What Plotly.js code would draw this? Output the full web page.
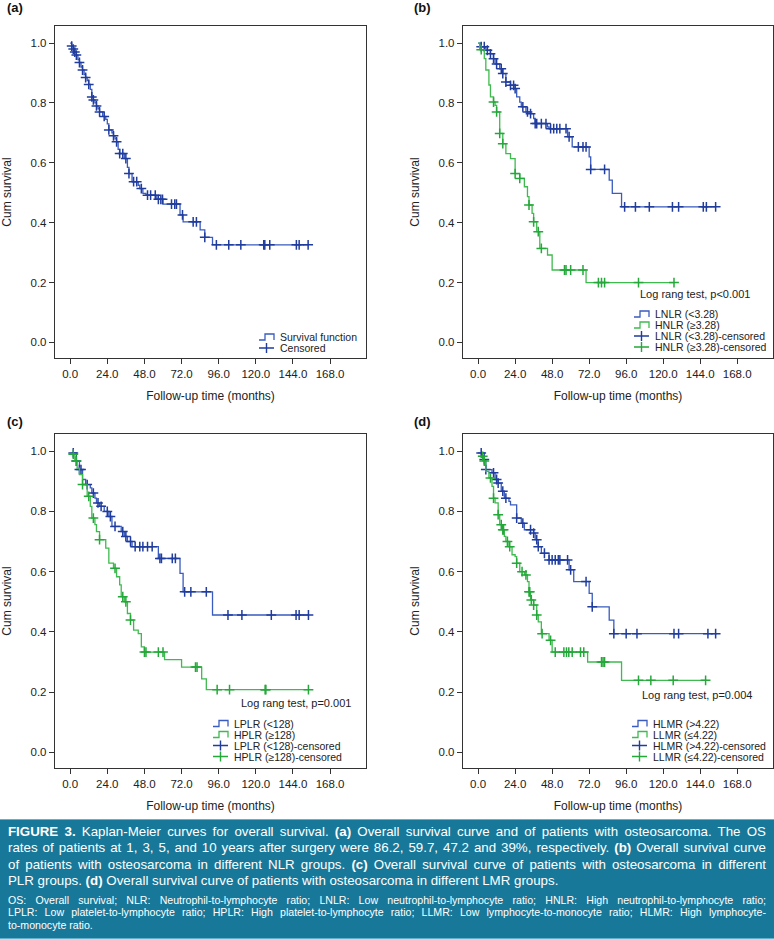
<!DOCTYPE html>
<html>
<head>
<meta charset="utf-8">
<script src="https://cdn.plot.ly/plotly-3.0.1.min.js"></script>
<style>
  body { margin: 0; background: #fff; }
  #chart { width: 774px; height: 819px; }
  #caption {
    width: 774px; height: 120px; box-sizing: border-box;
    background: #17789a; color: #fff;
    border-top: 1.5px solid #63b2cd; border-bottom: 1.5px solid #63b2cd;
    padding: 4px 8px 0 8px;
    font-family: "Liberation Sans", Arial, sans-serif;
  }
  #caption .main { font-size: 13.3px; line-height: 16.3px; }
  #caption .note { font-size: 10.6px; line-height: 12.5px; margin-top: 4.5px; }
  #caption .jl { text-align: justify; text-align-last: justify; }
</style>
</head>
<body>
<div id="chart"></div>
<div id="caption">
  <div class="main">
    <div class="jl"><b>FIGURE 3.</b> Kaplan-Meier curves for overall survival. <b>(a)</b> Overall survival curve and of patients with osteosarcoma. The OS</div>
    <div class="jl">rates of patients at 1, 3, 5, and 10 years after surgery were 86.2, 59.7, 47.2 and 39%, respectively. <b>(b)</b> Overall survival curve</div>
    <div class="jl">of patients with osteosarcoma in different NLR groups. <b>(c)</b> Overall survival curve of patients with osteosarcoma in different</div>
    <div>PLR groups. <b>(d)</b> Overall survival curve of patients with osteosarcoma in different LMR groups.</div>
  </div>
  <div class="note">
    <div class="jl">OS: Overall survival; NLR: Neutrophil-to-lymphocyte ratio; LNLR: Low neutrophil-to-lymphocyte ratio; HNLR: High neutrophil-to-lymphocyte ratio;</div>
    <div class="jl">LPLR: Low platelet-to-lymphocyte ratio; HPLR: High platelet-to-lymphocyte ratio; LLMR: Low lymphocyte-to-monocyte ratio; HLMR: High lymphocyte-</div>
    <div>to-monocyte ratio.</div>
  </div>
</div>
<script>
// (a) overall survival
const aTime = [0, 1, 2, 3, 4, 5, 6, 7, 8, 9, 10, 11, 12, 13, 14, 15, 16, 17, 18, 19, 21, 23, 24, 25, 27, 28, 29, 30, 31, 32, 35, 37, 38, 40, 44, 45, 47, 49, 56, 60, 71, 73, 84, 87, 92, 154];
const aSurv = [1.0, 0.99, 0.98, 0.97, 0.96, 0.945, 0.935, 0.92, 0.91, 0.895, 0.885, 0.875, 0.862, 0.845, 0.82, 0.81, 0.80, 0.79, 0.78, 0.77, 0.755, 0.745, 0.73, 0.71, 0.70, 0.69, 0.68, 0.67, 0.645, 0.631, 0.614, 0.585, 0.564, 0.537, 0.525, 0.514, 0.498, 0.492, 0.478, 0.462, 0.426, 0.403, 0.376, 0.351, 0.326, 0.326];
const aCens = [1, 2, 3, 4, 6, 8, 10, 12, 14, 15, 17, 19, 22, 25, 28, 30, 32, 34, 36, 38, 41, 43, 46, 50, 52, 55, 57, 58.6, 59.7, 65.5, 67.6, 68.7, 72.6, 79.5, 81.6, 87, 94.5, 102.5, 110.3, 125.1, 125.8, 129, 146.2, 148, 153.8];

// (b) NLR groups
const bLowTime = [0, 2, 5, 8, 10, 11, 14, 16, 18, 21, 24, 25, 27, 28, 31, 34, 36, 37, 45, 46, 58, 61, 72, 73, 85, 87, 93, 154];
const bLowSurv = [1.0, 0.988, 0.976, 0.964, 0.948, 0.93, 0.914, 0.898, 0.87, 0.859, 0.848, 0.82, 0.803, 0.787, 0.77, 0.764, 0.748, 0.731, 0.72, 0.714, 0.687, 0.653, 0.62, 0.578, 0.542, 0.498, 0.453, 0.453];
const bLowCens = [2, 4, 6, 8, 10, 12, 15, 16, 18, 21, 23, 24, 29, 32, 34, 37, 38, 41, 44, 47, 49, 51, 53, 57, 59, 65, 68, 70, 73, 82, 95, 102, 111, 126, 130, 146, 148, 154];
const bHighTime = [0, 1, 4, 5, 7, 8, 10, 11, 12, 14, 16, 18, 21, 24, 27, 30, 32, 33, 35, 36, 38, 40, 45, 48, 70, 127];
const bHighSurv = [1.0, 0.978, 0.948, 0.91, 0.86, 0.82, 0.803, 0.792, 0.77, 0.698, 0.664, 0.631, 0.614, 0.564, 0.548, 0.52, 0.487, 0.459, 0.431, 0.403, 0.37, 0.314, 0.292, 0.242, 0.2, 0.2];
const bHighCens = [2, 10, 12, 14, 16, 24, 27, 33, 36, 39, 41, 56, 57, 60, 68, 78, 80, 82, 104, 127];

// (c) PLR groups
const cLowTime = [1, 4, 6, 8, 10, 13, 14, 16, 17, 19, 22, 25, 27, 33, 35, 37, 40, 57, 71, 73, 92, 154];
const cLowSurv = [0.994, 0.967, 0.939, 0.906, 0.889, 0.878, 0.861, 0.844, 0.828, 0.817, 0.8, 0.783, 0.75, 0.733, 0.717, 0.7, 0.683, 0.644, 0.594, 0.533, 0.456, 0.456];
const cLowCens = [2, 4, 6, 7, 11, 15, 18, 20, 24, 26, 29, 34, 36, 39, 42, 45, 47, 50, 53, 58, 59, 66, 68, 74, 78, 88, 102, 111, 130, 146, 148, 154];
const cHighTime = [0.5, 3, 4.5, 6, 8, 11, 13, 14, 16, 17, 19, 23, 25, 28, 30, 32, 33, 35, 37, 39, 41, 44, 46, 48, 61, 72, 85, 88, 154];
const cHighSurv = [0.99, 0.967, 0.944, 0.922, 0.889, 0.85, 0.817, 0.778, 0.756, 0.733, 0.706, 0.678, 0.628, 0.611, 0.583, 0.556, 0.517, 0.5, 0.461, 0.439, 0.406, 0.394, 0.35, 0.333, 0.308, 0.283, 0.244, 0.208, 0.208];
const cHighCens = [2, 4, 8, 12, 15, 19, 29, 34, 36, 39, 48, 49, 57, 60, 81, 82, 95, 103, 126, 126.5, 154];

// (d) LMR groups
const dHighTime = [0, 4, 5, 9, 11, 13, 15, 17, 20, 21, 25, 28, 30, 36, 37, 39, 41, 46, 59, 62, 72, 74, 85, 88, 155];
const dHighSurv = [0.994, 0.972, 0.939, 0.928, 0.906, 0.894, 0.867, 0.844, 0.833, 0.822, 0.778, 0.761, 0.739, 0.728, 0.706, 0.683, 0.661, 0.639, 0.606, 0.567, 0.528, 0.483, 0.439, 0.394, 0.394];
const dHighCens = [2, 4, 5, 10, 12, 13, 16, 18, 25, 29, 34, 36, 38, 39, 43, 46, 48, 50, 52, 53, 58, 60, 70, 74, 88, 96, 103, 127, 130, 149, 154];
const dLowTime = [0, 4, 5, 7, 9, 10, 11, 13, 14, 16, 17, 18, 20, 22, 24, 25, 27, 30, 32, 33, 34, 36, 38, 39, 41, 46, 48, 71, 93, 148];
const dLowSurv = [0.983, 0.967, 0.933, 0.911, 0.883, 0.844, 0.828, 0.789, 0.756, 0.739, 0.717, 0.7, 0.683, 0.656, 0.65, 0.628, 0.6, 0.589, 0.567, 0.533, 0.506, 0.489, 0.456, 0.433, 0.394, 0.372, 0.333, 0.3, 0.239, 0.239];
const dLowCens = [3, 4, 8, 10, 13, 15, 16, 16.5, 19, 20.5, 25, 28.5, 31, 33, 33.5, 34.5, 36, 38, 41.5, 47, 50, 55.6, 57.3, 58.8, 61, 66.4, 68.5, 80, 81, 82, 104, 112, 126.5, 147.5];

const xTicks = [0, 24, 48, 72, 96, 120, 144, 168];
const yTicks = [0, 0.2, 0.4, 0.6, 0.8, 1.0];

const panelNames = ["(a)", "(b)", "(c)", "(d)"];
const pValues = [null, "Log rang test, p<0.001", "Log rang test, p=0.001", "Log rang test, p=0.004"];
const legendLabels = [
  ["Survival function", "Censored"],
  ["LNLR (<3.28)", "HNLR (\u22653.28)", "LNLR (<3.28)-censored", "HNLR (\u22653.28)-censored"],
  ["LPLR (<128)", "HPLR (\u2265128)", "LPLR (<128)-censored", "HPLR (\u2265128)-censored"],
  ["HLMR (>4.22)", "LLMR (\u22644.22)", "HLMR (>4.22)-censored", "LLMR (\u22644.22)-censored"]
];

const W = 774, H = 819;
const px = x => x / W;
const py = y => 1 - y / H;

const blue = "#3a5bbf", blueMark = "#203d9e";
const green = "#3fba4f", greenMark = "#25a83a";
const font = "Liberation Sans, Arial, sans-serif";

function survAt(times, surv, t) {
  let s = surv[0];
  for (let i = 0; i < times.length; i++) if (times[i] <= t) s = surv[i];
  return s;
}

function kmTraces(times, surv, cens, color, markColor, n) {
  const ax = n === 1 ? "" : String(n);
  return [
    { type: "scatter", mode: "lines", x: times, y: surv, xaxis: "x" + ax, yaxis: "y" + ax,
      line: { shape: "hv", color: color, width: 1.3 }, showlegend: false, hoverinfo: "skip" },
    { type: "scatter", mode: "markers", x: cens, y: cens.map(t => survAt(times, surv, t)), xaxis: "x" + ax, yaxis: "y" + ax,
      marker: { symbol: "cross-thin", size: 7, color: markColor, line: { color: markColor, width: 1.5 } },
      showlegend: false, hoverinfo: "skip" }
  ];
}

const traces = [
  ...kmTraces(aTime, aSurv, aCens, blue, blueMark, 1),
  ...kmTraces(bLowTime, bLowSurv, bLowCens, blue, blueMark, 2),
  ...kmTraces(bHighTime, bHighSurv, bHighCens, green, greenMark, 2),
  ...kmTraces(cLowTime, cLowSurv, cLowCens, blue, blueMark, 3),
  ...kmTraces(cHighTime, cHighSurv, cHighCens, green, greenMark, 3),
  ...kmTraces(dHighTime, dHighSurv, dHighCens, blue, blueMark, 4),
  ...kmTraces(dLowTime, dLowSurv, dLowCens, green, greenMark, 4)
];

// plot frames in page pixels: left, right, top, bottom
const frames = [[55, 366, 26, 358], [463, 773, 26, 358], [55, 366, 434, 768], [463, 773, 434, 768]];
const labelPos = [[5, 8], [412, 8], [5, 422], [412, 422]];
const pPos = [null, [752, 294], [353, 703], [754, 695]];
const legendPos = [
  { x: 259, text: 279, y: [337, 348] },
  { x: 634, text: 654, y: [314, 325, 336, 347] },
  { x: 213, text: 233, y: [723.5, 734.5, 745.5, 756.5] },
  { x: 632, text: 652, y: [723.5, 734.5, 745.5, 756.5] }
];

const layout = {
  width: W, height: H,
  margin: { t: 0, r: 0, b: 0, l: 0 },
  paper_bgcolor: "#fff", plot_bgcolor: "#fff",
  font: { family: font, color: "#222" },
  showlegend: false,
  annotations: [],
  shapes: []
};

frames.forEach((f, i) => {
  const ax = i === 0 ? "" : String(i + 1);
  layout["xaxis" + ax] = {
    domain: [px(f[0]), px(f[1])], anchor: "y" + ax, range: [-9.8, 191.2],
    tickvals: xTicks, tickformat: ".1f", ticks: "outside", ticklen: 5, tickcolor: "#333",
    showline: true, mirror: true, linecolor: "#333", linewidth: 1.2,
    showgrid: false, zeroline: false, tickfont: { size: 11.5, color: "#222" },
    title: { text: "Follow-up time (months)", font: { size: 12, color: "#222" }, standoff: 12 }
  };
  layout["yaxis" + ax] = {
    domain: [py(f[3]), py(f[2])], anchor: "x" + ax, range: [-0.052, 1.057],
    tickvals: yTicks, tickformat: ".1f", ticks: "outside", ticklen: 5, tickcolor: "#333",
    showline: true, mirror: true, linecolor: "#333", linewidth: 1.2,
    showgrid: false, zeroline: false, tickfont: { size: 11.5, color: "#222" },
    title: { text: "Cum survival", font: { size: 12, color: "#222" }, standoff: 16 }
  };

  layout.annotations.push({
    xref: "paper", yref: "paper", x: px(labelPos[i][0]), y: py(labelPos[i][1]),
    xanchor: "left", yanchor: "middle", showarrow: false,
    text: "<b>" + panelNames[i] + "</b>", font: { size: 13, color: "#111" }
  });
  if (pValues[i]) {
    layout.annotations.push({
      xref: "paper", yref: "paper", x: px(pPos[i][0]), y: py(pPos[i][1]),
      xanchor: "right", yanchor: "middle", showarrow: false,
      text: pValues[i], font: { size: 11, color: "#222" }
    });
  }

  // hand-drawn legend, SPSS style
  const lg = legendPos[i];
  const labels = legendLabels[i];
  const lineCols = labels.length === 2 ? [blue] : [blue, green];
  const markCols = labels.length === 2 ? [blueMark] : [blueMark, greenMark];
  labels.forEach((lab, k) => {
    const yc = lg.y[k];
    layout.annotations.push({
      xref: "paper", yref: "paper", x: px(lg.text), y: py(yc),
      xanchor: "left", yanchor: "middle", showarrow: false, borderpad: 0,
      text: lab, font: { size: 10.5, color: "#222" }
    });
    const x0 = lg.x, x1 = lg.x + 15;
    const nLines = lineCols.length;
    if (k < nLines) {
      const yb = yc + 3, yt = yc - 3;
      layout.shapes.push({
        type: "path", xref: "paper", yref: "paper",
        path: `M ${px(x0)} ${py(yb)} L ${px(x0 + 6)} ${py(yb)} L ${px(x0 + 6)} ${py(yt)} L ${px(x1)} ${py(yt)} L ${px(x1)} ${py(yb)}`,
        line: { color: lineCols[k], width: 1.3 }
      });
    } else {
      const c = markCols[k - nLines];
      layout.shapes.push({
        type: "path", xref: "paper", yref: "paper",
        path: `M ${px(x0)} ${py(yc)} L ${px(x1)} ${py(yc)} M ${px(x0 + 7.5)} ${py(yc - 5)} L ${px(x0 + 7.5)} ${py(yc + 5)}`,
        line: { color: c, width: 1.4 }
      });
    }
  });
});

Plotly.newPlot("chart", traces, layout, { displayModeBar: false, staticPlot: true });
</script>
</body>
</html>
